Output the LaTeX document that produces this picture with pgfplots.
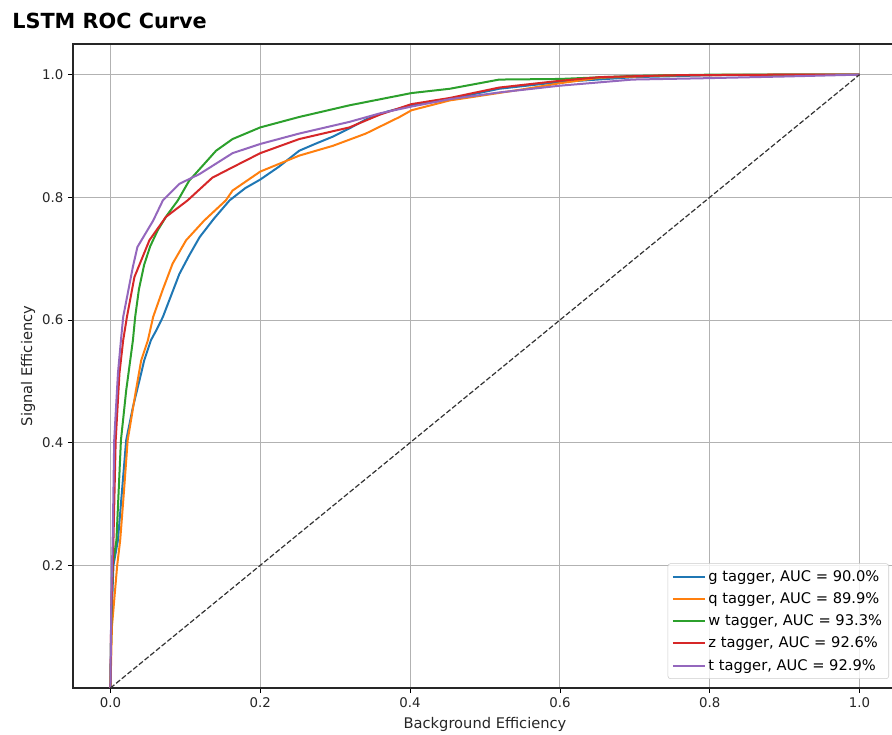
\documentclass[border=0pt]{standalone}
\usepackage{fontspec}
\setmainfont{DejaVu Sans}
\usepackage{pgfplots}
\pgfplotsset{compat=1.18}
\usepackage{pgfplotstable}

\definecolor{tabblue}{HTML}{1F77B4}
\definecolor{taborange}{HTML}{FF7F0E}
\definecolor{tabgreen}{HTML}{2CA02C}
\definecolor{tabred}{HTML}{D62728}
\definecolor{tabpurple}{HTML}{9467BD}

% ROC points read off the reference (background eff., signal eff.)
\pgfplotstableread{
x y
0 0
0.001 0.10
0.004 0.20
0.010 0.241
0.016 0.33
0.021 0.404
0.030 0.458
0.041 0.513
0.045 0.534
0.054 0.567
0.062 0.585
0.070 0.605
0.081 0.640
0.092 0.675
0.105 0.705
0.119 0.735
0.138 0.765
0.159 0.795
0.180 0.815
0.200 0.829
0.225 0.850
0.252 0.876
0.275 0.888
0.297 0.899
0.320 0.913
0.341 0.927
0.370 0.940
0.402 0.950
0.453 0.960
0.519 0.977
0.600 0.988
0.700 0.996
0.800 0.999
0.900 1.0
1.0 1.0
}\gtag

\pgfplotstableread{
x y
0 0
0.002 0.10
0.009 0.20
0.013 0.241
0.018 0.32
0.023 0.404
0.034 0.485
0.041 0.534
0.050 0.567
0.057 0.605
0.070 0.650
0.083 0.692
0.101 0.730
0.125 0.762
0.154 0.795
0.163 0.811
0.200 0.842
0.252 0.868
0.297 0.884
0.341 0.904
0.386 0.931
0.402 0.942
0.453 0.958
0.475 0.962
0.550 0.976
0.600 0.986
0.653 0.995
0.750 0.999
0.900 1.0
1.0 1.0
}\qtag

\pgfplotstableread{
x y
0 0
0.001 0.10
0.003 0.20
0.008 0.241
0.014 0.404
0.021 0.485
0.030 0.567
0.033 0.605
0.038 0.650
0.045 0.690
0.053 0.720
0.063 0.746
0.075 0.770
0.090 0.795
0.105 0.827
0.119 0.846
0.141 0.876
0.163 0.895
0.200 0.914
0.252 0.931
0.319 0.950
0.402 0.970
0.453 0.977
0.519 0.992
0.600 0.993
0.700 0.998
0.800 1.0
1.0 1.0
}\wtag

\pgfplotstableread{
x y
0 0
0.001 0.12
0.003 0.20
0.004 0.241
0.007 0.404
0.012 0.513
0.017 0.567
0.022 0.605
0.032 0.670
0.052 0.730
0.074 0.768
0.103 0.795
0.119 0.813
0.136 0.832
0.163 0.849
0.200 0.872
0.252 0.895
0.319 0.914
0.360 0.935
0.402 0.952
0.453 0.962
0.519 0.979
0.600 0.990
0.653 0.996
0.750 0.999
0.900 1.0
1.0 1.0
}\ztag

\pgfplotstableread{
x y
0 0
0.001 0.13
0.002 0.20
0.003 0.241
0.005 0.404
0.010 0.513
0.014 0.567
0.017 0.605
0.030 0.687
0.036 0.719
0.057 0.762
0.070 0.795
0.092 0.822
0.119 0.838
0.163 0.872
0.200 0.887
0.252 0.904
0.319 0.923
0.360 0.937
0.402 0.948
0.453 0.960
0.519 0.971
0.600 0.982
0.697 0.992
0.786 0.994
0.900 0.997
1.0 1.0
}\ttag

\begin{document}
\begin{tikzpicture}
\begin{axis}[
  scale only axis,
  width=618pt, height=483pt,
  xmin=-0.05, xmax=1.05, ymin=0, ymax=1.05,
  xtick={0,0.2,0.4,0.6,0.8,1.0},
  ytick={0.2,0.4,0.6,0.8,1.0},
  xticklabel style={/pgf/number format/.cd,fixed,fixed zerofill,precision=1},
  yticklabel style={/pgf/number format/.cd,fixed,fixed zerofill,precision=1},
  /pgf/number format/assume math mode=true,
  ticklabel style={font=\fontsize{10}{12}\selectfont, text=black!85},
  tick align=outside, major tick length=3.75pt,
  tick style={black, line width=0.6pt},
  xtick pos=bottom, ytick pos=left,
  grid=major,
  major grid style={color=black!30, line width=0.7pt},
  axis line style={black!85, line width=0.8pt},
  xlabel={Background Efficiency},
  ylabel={Signal Efficiency},
  xlabel style={at={(axis description cs:0.5,-0.0559)}, anchor=center, font=\fontsize{11}{13}\selectfont, text=black!85},
  ylabel style={at={(axis description cs:-0.0546,0.5)}, anchor=center, rotate=0, font=\fontsize{11}{13}\selectfont, text=black!85},
  title={LSTM ROC Curve},
  title style={at={(axis description cs:-0.074,1.012)}, anchor=base west, font=\fontsize{15.6}{18}\selectfont\bfseries, inner sep=0pt},
  legend cell align=left,
  legend style={at={(axis description cs:1,0)}, anchor=south east, xshift=-6pt, yshift=6.75pt,
    font=\fontsize{11}{13}\selectfont, draw=black!20, fill=white, fill opacity=0.8, text opacity=1,
    rounded corners=2pt, row sep=3pt, inner sep=3pt},
  legend image code/.code={\draw[mark repeat=2,mark phase=2] plot coordinates {(0cm,0cm) (0.42cm,0cm) (0.84cm,0cm)};},
  every axis plot/.append style={line width=1.5pt},
]
\addplot[tabblue] table[x=x,y=y] {\gtag};
\addlegendentry{g tagger, AUC = 90.0\%}
\addplot[taborange] table[x=x,y=y] {\qtag};
\addlegendentry{q tagger, AUC = 89.9\%}
\addplot[tabgreen] table[x=x,y=y] {\wtag};
\addlegendentry{w tagger, AUC = 93.3\%}
\addplot[tabred] table[x=x,y=y] {\ztag};
\addlegendentry{z tagger, AUC = 92.6\%}
\addplot[tabpurple] table[x=x,y=y] {\ttag};
\addlegendentry{t tagger, AUC = 92.9\%}
\addplot[black!80, line width=0.9pt, dash pattern=on 3.85pt off 1.67pt, forget plot] coordinates {(0,0) (1,1)};
\end{axis}
\pgfresetboundingbox
\path[use as bounding box] (-54.75pt,-35.25pt) rectangle (614.25pt,516pt);
\end{tikzpicture}
\end{document}
